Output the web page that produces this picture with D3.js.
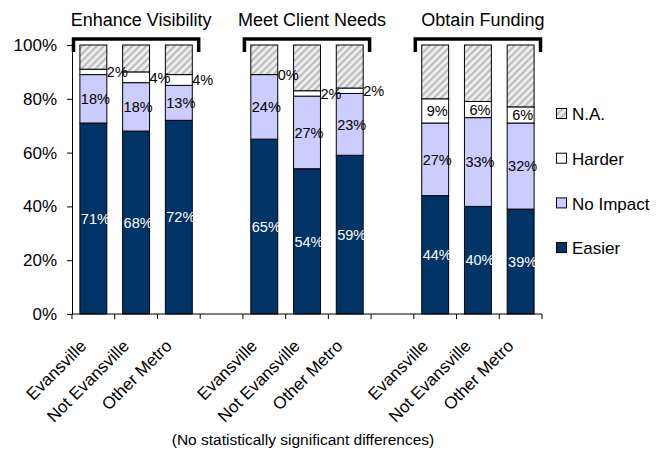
<!DOCTYPE html>
<html>
<head>
  <script src="https://cdnjs.cloudflare.com/ajax/libs/d3/7.8.5/d3.min.js"></script>
  <style>
    body { margin: 0; background: #fff; }
    text { font-family: "Liberation Sans", Arial, sans-serif; fill: #000; }
    .axis path, .axis line { stroke: #000; }
  </style>
</head>
<body>
  <div id="chart"></div>
  <script>
    // Data
    const groups = ["Enhance Visibility", "Meet Client Needs", "Obtain Funding"];
    const regions = ["Evansville", "Not Evansville", "Other Metro"];
    const seriesNames = ["Easier", "No Impact", "Harder", "N.A."];
    // values per group, in region order
    const easier   = [[71, 68, 72], [65, 54, 59], [44, 40, 39]];
    const noImpact = [[18, 18, 13], [24, 27, 23], [27, 33, 32]];
    const harder   = [[2, 4, 4],    [0, 2, 2],    [9, 6, 6]];
    const na       = [[9, 10, 11],  [11, 17, 16], [20, 21, 23]];
    const yTicks = [0, 20, 40, 60, 80, 100];
    const footnote = "(No statistically significant differences)";

    const colors = {"Easier": "#003366", "No Impact": "#ccccff", "Harder": "#ffffff", "N.A.": "url(#hatch)"};

    const W = 667, H = 453;
    const plotL = 72, plotR = 542, plotT = 45, plotB = 314;

    const svg = d3.select("#chart").append("svg")
      .attr("width", W).attr("height", H);

    // hatch pattern for N.A.
    const pat = svg.append("defs").append("pattern")
      .attr("id", "hatch")
      .attr("patternUnits", "userSpaceOnUse")
      .attr("width", 5).attr("height", 5)
      .attr("patternTransform", "rotate(45)");
    pat.append("rect").attr("width", 5).attr("height", 5).attr("fill", "#efefef");
    pat.append("rect").attr("width", 2.2).attr("height", 5).attr("fill", "#bdbdbd");

    // slots: 3 bars, gap, 3 bars, gap, 3 bars
    const slots = [];
    groups.forEach((g, gi) => {
      regions.forEach((r, ri) => slots.push({key: gi + "-" + ri, g: gi, r: ri}));
      if (gi < groups.length - 1) slots.push({key: "gap" + gi, gap: true});
    });

    const x = d3.scaleBand()
      .domain(slots.map(s => s.key))
      .range([plotL, plotR])
      .paddingInner(0.37).paddingOuter(0.185);
    const band = (plotR - plotL) / slots.length;

    const y = d3.scaleLinear().domain([0, 100]).range([plotB, plotT]);

    // bars
    const bars = slots.filter(s => !s.gap).map(s => {
      const vals = [easier[s.g][s.r], noImpact[s.g][s.r], harder[s.g][s.r], na[s.g][s.r]];
      let acc = 0;
      const segs = vals.map((v, i) => {
        const seg = {name: seriesNames[i], v: v, y0: acc, y1: acc + v};
        acc += v;
        return seg;
      });
      return {key: s.key, segs: segs};
    });

    const barG = svg.append("g");
    bars.forEach(b => {
      b.segs.forEach(sg => {
        if (sg.v <= 0) return;
        barG.append("rect")
          .attr("x", x(b.key))
          .attr("y", y(sg.y1))
          .attr("width", x.bandwidth())
          .attr("height", y(sg.y0) - y(sg.y1))
          .attr("fill", colors[sg.name])
          .attr("stroke", "#000")
          .attr("stroke-width", 1);
      });
    });

    // labels
    const lblG = svg.append("g").style("font-size", "14.5px");
    bars.forEach(b => {
      b.segs.slice(0, 3).forEach(sg => {
        const cy = y((sg.y0 + sg.y1) / 2);
        let tx = x(b.key) + x.bandwidth() / 2 + 2, anchor = "middle";
        if (sg.name === "Harder" && sg.v < 5) {
          tx = x(b.key) + x.bandwidth();
          anchor = "start";
        }
        lblG.append("text")
          .attr("x", tx).attr("y", cy)
          .attr("dy", "0.36em")
          .attr("text-anchor", anchor)
          .style("fill", sg.name === "Easier" ? "#fff" : "#000")
          .text(sg.v + "%");
      });
    });

    // y axis
    svg.append("g").attr("class", "axis")
      .attr("transform", `translate(${plotL},0)`)
      .call(d3.axisLeft(y).tickValues(yTicks).tickFormat(d => d + "%").tickSize(5).tickPadding(10).tickSizeOuter(0))
      .call(g => g.selectAll("text").style("font-size", "17px").attr("font-family", null));

    // x axis line with boundary ticks
    const xa = svg.append("g").attr("class", "axis");
    xa.append("line").attr("x1", plotL).attr("x2", plotR).attr("y1", plotB).attr("y2", plotB).attr("stroke", "#000");
    d3.range(slots.length + 1).forEach(i => {
      const tx = plotL + i * band;
      xa.append("line").attr("x1", tx).attr("x2", tx).attr("y1", plotB).attr("y2", plotB + 5).attr("stroke", "#000");
    });

    // category labels
    slots.filter(s => !s.gap).forEach(s => {
      const cx = x(s.key) + x.bandwidth() / 2 - 6;
      svg.append("text")
        .attr("transform", `translate(${cx},${plotB + 33}) rotate(-45)`)
        .attr("text-anchor", "end")
        .style("font-size", "17px")
        .text(regions[s.r]);
    });

    // group titles and brackets
    groups.forEach((g, gi) => {
      const x0 = plotL + gi * 4 * band, x1 = x0 + 3 * band;
      svg.append("path")
        .attr("d", `M${x0 + 1.5},52 V39 H${x1 - 1.5} V52`)
        .attr("fill", "none")
        .attr("stroke", "#000")
        .attr("stroke-width", 3.5);
      svg.append("text")
        .attr("x", (x0 + x1) / 2 + 5).attr("y", 26)
        .attr("text-anchor", "middle")
        .style("font-size", "18px")
        .text(g);
    });

    // legend
    const legOrder = ["N.A.", "Harder", "No Impact", "Easier"];
    const leg = svg.append("g").attr("transform", "translate(556,114)");
    legOrder.forEach((n, i) => {
      const row = leg.append("g").attr("transform", `translate(0,${i * 44.7})`);
      row.append("rect")
        .attr("x", 0.5).attr("y", -5.5)
        .attr("width", 10).attr("height", 10)
        .attr("fill", colors[n]).attr("stroke", "#000");
      row.append("text")
        .attr("x", 16).attr("y", 0).attr("dy", "0.36em")
        .style("font-size", "17px")
        .text(n);
    });

    // footnote
    svg.append("text")
      .attr("x", 303).attr("y", 445)
      .attr("text-anchor", "middle")
      .style("font-size", "15.5px")
      .text(footnote);
  </script>
</body>
</html>
